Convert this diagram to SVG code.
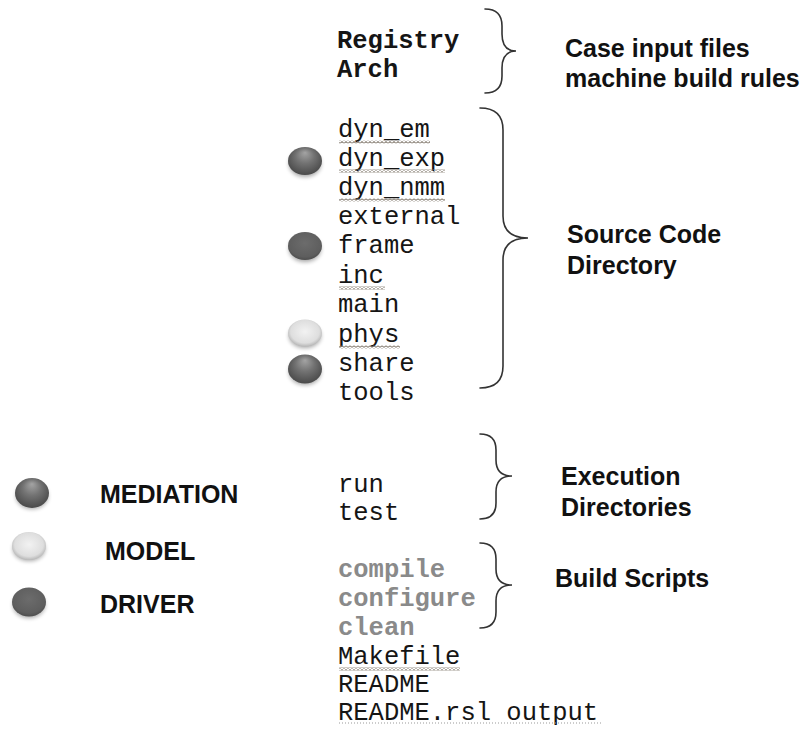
<svg xmlns="http://www.w3.org/2000/svg" width="811" height="729" viewBox="0 0 811 729">
  <defs>
    <style>
      .mono { font-family: "Liberation Mono", "Courier New", monospace; font-size: 25.5px; fill: #151515; }
      .monob { font-family: "Liberation Mono", "Courier New", monospace; font-size: 25.5px; font-weight: bold; fill: #151515; }
      .script { font-family: "Liberation Mono", "Courier New", monospace; font-size: 25.5px; font-weight: bold; fill: #8a8a8a; }
      .label { font-family: "Liberation Sans", Arial, sans-serif; font-size: 25px; font-weight: bold; fill: #111; }
      .brace { fill: none; stroke: #333; stroke-width: 1.6; stroke-linecap: round; }
      .wavy { fill: url(#wave); }
      .dots { stroke: #999; stroke-width: 1.2; stroke-dasharray: 1 2; }
      .shadow { fill: #000; opacity: 0.35; filter: url(#soft); }
    </style>
    <pattern id="wave" width="4" height="3" patternUnits="userSpaceOnUse">
      <path d="M0 2.4 L2 0.6 L4 2.4" fill="none" stroke="#8a8176" stroke-width="1.1"/>
    </pattern>
    <filter id="soft" x="-50%" y="-50%" width="200%" height="200%">
      <feGaussianBlur stdDeviation="2"/>
    </filter>
    <radialGradient id="gMediation" cx="0.5" cy="0.45" r="0.6" fx="0.5" fy="0.2">
      <stop offset="0" stop-color="#a4a4a4"/>
      <stop offset="0.45" stop-color="#737373"/>
      <stop offset="1" stop-color="#454545"/>
    </radialGradient>
    <radialGradient id="gDriver" cx="0.5" cy="0.4" r="0.6">
      <stop offset="0" stop-color="#6c6c6c"/>
      <stop offset="0.8" stop-color="#5e5e5e"/>
      <stop offset="1" stop-color="#4e4e4e"/>
    </radialGradient>
    <radialGradient id="gModel" cx="0.5" cy="0.45" r="0.6">
      <stop offset="0" stop-color="#f2f2f2"/>
      <stop offset="0.7" stop-color="#dedede"/>
      <stop offset="1" stop-color="#a9a9a9"/>
    </radialGradient>
  </defs>

  <rect width="811" height="729" fill="#ffffff"/>

  <!-- top-level entries of the source tree -->
  <g id="tree">
    <text class="monob" x="337" y="48">Registry</text>
    <text class="monob" x="337" y="77">Arch</text>

    <text class="mono" x="338" y="137">dyn_em</text>
    <text class="mono" x="338" y="166">dyn_exp</text>
    <text class="mono" x="338" y="195">dyn_nmm</text>
    <text class="mono" x="338" y="224">external</text>
    <text class="mono" x="338" y="253">frame</text>
    <text class="mono" x="338" y="283">inc</text>
    <text class="mono" x="338" y="312">main</text>
    <text class="mono" x="338" y="342">phys</text>
    <text class="mono" x="338" y="371">share</text>
    <text class="mono" x="338" y="400">tools</text>

    <text class="mono" x="338" y="492">run</text>
    <text class="mono" x="338" y="520">test</text>

    <text class="script" x="338" y="577">compile</text>
    <text class="script" x="338" y="606">configure</text>
    <text class="script" x="338" y="635">clean</text>

    <text class="mono" x="338" y="664">Makefile</text>
    <text class="mono" x="338" y="692">README</text>
    <text class="mono" x="338" y="720">README.rsl output</text>

    <!-- spell-check underlines -->
    <rect class="wavy" x="339" y="140.5" width="91" height="3"/>
    <rect class="wavy" x="339" y="169.5" width="106" height="3"/>
    <rect class="wavy" x="339" y="198.5" width="106" height="3"/>
    <rect class="wavy" x="339" y="286.5" width="46" height="3"/>
    <rect class="wavy" x="339" y="345.5" width="61" height="3"/>
    <rect class="wavy" x="339" y="667.5" width="121" height="3"/>
    <line class="dots" x1="339" y1="723" x2="603" y2="723"/>
  </g>

  <!-- role markers beside the directories -->
  <g id="markers">
    <ellipse class="shadow" cx="305" cy="164" rx="16" ry="13"/>
    <ellipse cx="305" cy="161" rx="17" ry="14" fill="url(#gMediation)"/>

    <ellipse class="shadow" cx="305" cy="249" rx="16" ry="13"/>
    <ellipse cx="305" cy="246" rx="17" ry="14" fill="url(#gDriver)"/>

    <ellipse class="shadow" cx="305" cy="336" rx="16" ry="12"/>
    <ellipse cx="305" cy="333" rx="17" ry="13.5" fill="url(#gModel)"/>

    <ellipse class="shadow" cx="305" cy="372" rx="16" ry="13"/>
    <ellipse cx="305" cy="369" rx="17" ry="14.5" fill="url(#gMediation)"/>
  </g>

  <!-- braces grouping the entries -->
  <g id="connectors">
    <path class="brace" d="M485 9 Q502 9 502 26 L502 34 Q502 51 516 51 Q502 51 502 68 L502 76 Q502 93 485 93"/>
    <path class="brace" d="M480 108 Q503 108 503 130 L503 216 Q503 238 528 238 Q503 238 503 260 L503 366 Q503 388 480 388"/>
    <path class="brace" d="M480 434 Q496 434 496 450 L496 460 Q496 476 512 476 Q496 476 496 492 L496 503 Q496 519 480 519"/>
    <path class="brace" d="M480 543 Q496 543 496 559 L496 569 Q496 585 512 585 Q496 585 496 601 L496 612 Q496 628 480 628"/>
  </g>

  <g id="group-case">
    <text class="label" x="565" y="57">Case input files</text>
    <text class="label" x="565" y="87">machine build rules</text>
  </g>
  <g id="group-source">
    <text class="label" x="567" y="243">Source Code</text>
    <text class="label" x="567" y="274">Directory</text>
  </g>
  <g id="group-exec">
    <text class="label" x="561" y="485">Execution</text>
    <text class="label" x="561" y="516">Directories</text>
  </g>
  <g id="group-build">
    <text class="label" x="555" y="587">Build Scripts</text>
  </g>

  <!-- legend -->
  <g id="legend-mediation">
    <ellipse class="shadow" cx="32" cy="496" rx="16" ry="13"/>
    <ellipse cx="32" cy="493" rx="17" ry="15" fill="url(#gMediation)"/>
    <text class="label" x="100" y="503">MEDIATION</text>
  </g>
  <g id="legend-model">
    <ellipse class="shadow" cx="29" cy="549" rx="16" ry="12"/>
    <ellipse cx="29" cy="546" rx="17" ry="14" fill="url(#gModel)"/>
    <text class="label" x="105" y="560">MODEL</text>
  </g>
  <g id="legend-driver">
    <ellipse class="shadow" cx="29" cy="605" rx="16" ry="13"/>
    <ellipse cx="29" cy="602" rx="17" ry="14.5" fill="url(#gDriver)"/>
    <text class="label" x="100" y="613">DRIVER</text>
  </g>
</svg>
